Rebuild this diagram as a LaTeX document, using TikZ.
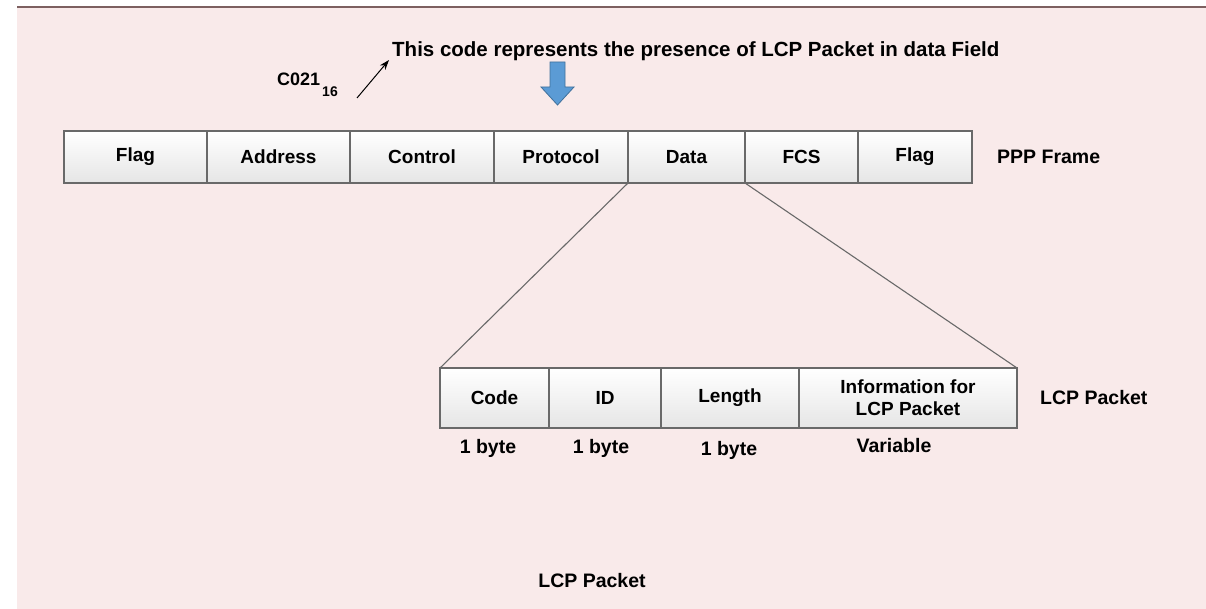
\documentclass[tikz,border=0pt]{standalone}
\usepackage{fontspec}
\setmainfont{Liberation Sans}
\usetikzlibrary{arrows.meta}
\definecolor{pkt_bg}{RGB}{249, 234, 234}
\definecolor{pkt_rule}{RGB}{125, 96, 96}
\definecolor{pkt_edge}{RGB}{105, 105, 105}
\definecolor{pkt_blue}{RGB}{91, 155, 213}
\definecolor{pkt_blue_dk}{RGB}{65, 113, 156}
\tikzstyle{cell}=[rectangle,draw=pkt_edge,line width=1.1pt,top color=white,
  bottom color=black!10,inner sep=0pt,outer sep=0pt,align=center,
  font=\bfseries\fontsize{19}{21}\selectfont]
\tikzstyle{lbl}=[inner sep=0pt,font=\bfseries\fontsize{19.5}{21}\selectfont]
\tikzstyle{none}=[]

\begin{document}
\begin{tikzpicture}[x=1pt, y=-1pt]
            \useasboundingbox (0, 0) rectangle (1206, 609);
            \fill [pkt_bg] (17, 7) rectangle (1206, 609);
            \draw [pkt_rule, line width=2pt] (17, 7) to (1206, 7);
            % PPP frame
            \node [style=cell, minimum width=143pt, minimum height=52pt] (0) at (135.5, 157) {Flag};
            \node [style=cell, minimum width=143pt, minimum height=52pt] (1) at (278.5, 157) {Address};
            \node [style=cell, minimum width=144pt, minimum height=52pt] (2) at (422, 157) {Control};
            \node [style=cell, minimum width=134pt, minimum height=52pt] (3) at (561, 157) {Protocol};
            \node [style=cell, minimum width=117pt, minimum height=52pt] (4) at (686.5, 157) {Data};
            \node [style=cell, minimum width=113pt, minimum height=52pt] (5) at (801.5, 157) {FCS};
            \node [style=cell, minimum width=114pt, minimum height=52pt] (6) at (915, 157) {Flag};
            \node [style=lbl, anchor=west] (7) at (997, 157) {PPP Frame};
            % LCP packet
            \node [style=cell, minimum width=109pt, minimum height=60pt] (8) at (494.5, 398) {Code};
            \node [style=cell, minimum width=112pt, minimum height=60pt] (9) at (605, 398) {ID};
            \node [style=cell, minimum width=138pt, minimum height=60pt] (10) at (730, 398) {Length};
            \node [style=cell, minimum width=218pt, minimum height=60pt, font=\bfseries\fontsize{19}{22}\selectfont] (11) at (908, 398) {Information for\\LCP Packet};
            \node [style=lbl, anchor=west] (12) at (1040, 398) {LCP Packet};
            \node [style=lbl] (13) at (488, 448) {1 byte};
            \node [style=lbl] (14) at (601, 448) {1 byte};
            \node [style=lbl] (15) at (729, 450) {1 byte};
            \node [style=lbl] (16) at (894, 446) {Variable};
            \node [style=lbl] (17) at (592, 581) {LCP Packet};
            \draw [pkt_edge, line width=1.1pt] (4.south west) to (8.north west);
            \draw [pkt_edge, line width=1.1pt] (4.south east) to (11.north east);
            % protocol code
            \node [style=lbl, anchor=west, font=\bfseries\fontsize{20.5}{22}\selectfont] (18) at (392, 51) {This code represents the presence of LCP Packet in data Field};
            \node [style=lbl, anchor=west, font=\bfseries\fontsize{18}{20}\selectfont] (19) at (277, 85) {C021\hspace{2pt}\raisebox{-11pt}{\fontsize{14}{14}\selectfont 16}};
            \coordinate (20) at (357, 98);
            \coordinate (21) at (389, 60);
            \draw [line width=1pt, -{Stealth[length=10pt, width=7pt]}] (20) to (21);
            \fill [pkt_blue, draw=pkt_blue_dk, line width=0.8pt] (550, 62) -- (565, 62) -- (565, 87) -- (574, 87) -- (557.5, 105) -- (541, 87) -- (550, 87) -- cycle;
    \end{tikzpicture}
\end{document}
